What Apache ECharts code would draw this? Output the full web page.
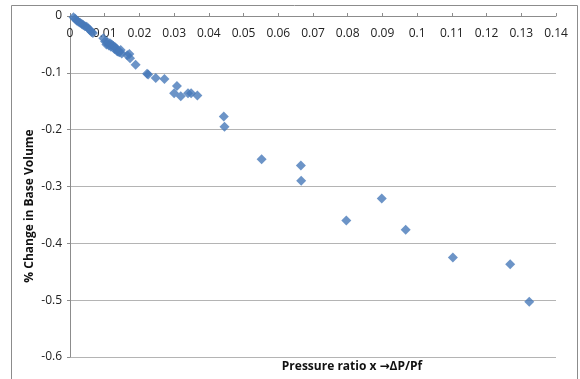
<!DOCTYPE html>
<html>
<head>
<meta charset="utf-8">
<script src="https://cdn.jsdelivr.net/npm/echarts@6/dist/echarts.min.js"></script>
<style>
  html, body { margin: 0; padding: 0; background: #fff; }
  #chart { width: 580px; height: 379px; }
</style>
</head>
<body>
<div id="chart"></div>
<script>
// pressure ratio x (ΔP/Pf) vs % change in base volume
const pressureRatio = [
  0.0010, 0.0015, 0.0019, 0.0024, 0.0029, 0.0034, 0.0038, 0.0043, 0.0048, 0.0053, 0.0058, 0.0062, 0.0066,
  0.0096, 0.0101, 0.0105, 0.0108, 0.0112, 0.0115, 0.0118, 0.0120, 0.0125, 0.0128, 0.0130, 0.0134,
  0.0136, 0.0139, 0.0143, 0.0146, 0.0149,
  0.0165, 0.0171, 0.0173,
  0.0189, 0.0222, 0.0225, 0.0247, 0.0272, 0.0300, 0.0308, 0.0319, 0.0340, 0.0349, 0.0367,
  0.0443, 0.0445, 0.0552, 0.0665, 0.0666, 0.0796, 0.0898, 0.0967, 0.1103, 0.1268, 0.1323
];
const volumeChange = [
  -0.002, -0.005, -0.008, -0.010, -0.012, -0.014, -0.016, -0.018, -0.019, -0.022, -0.025, -0.028, -0.030,
  -0.039, -0.045, -0.050, -0.046, -0.052, -0.048, -0.054, -0.050, -0.053, -0.058, -0.055, -0.057,
  -0.062, -0.063, -0.064, -0.060, -0.066,
  -0.069, -0.067, -0.0745,
  -0.0857, -0.1015, -0.103, -0.109, -0.111, -0.136, -0.123, -0.141, -0.136, -0.136, -0.140,
  -0.177, -0.195, -0.252, -0.263, -0.290, -0.360, -0.321, -0.376, -0.425, -0.437, -0.503
];
const xTicks = { min: 0, max: 0.14, step: 0.01 };
const yTicks = { min: -0.6, max: 0, step: 0.1 };

const points = pressureRatio.map((x, i) => [x, volumeChange[i]]);
const font = "'Open Sans', 'DejaVu Sans', sans-serif";

const myChart = echarts.init(document.getElementById('chart'));
const option = {
  animation: false,
  grid: { left: 70, right: 24, top: 16, bottom: 22 },
  xAxis: {
    type: 'value',
    position: 'top',
    min: xTicks.min, max: xTicks.max, interval: xTicks.step,
    axisLine: { show: true, lineStyle: { color: '#8c8c8c' } },
    axisTick: { show: true, inside: false, length: 3, lineStyle: { color: '#8c8c8c' } },
    axisLabel: {
      inside: true, margin: 12, color: '#222', fontSize: 12, fontFamily: font,
      formatter: v => +v.toFixed(2) + ''
    },
    splitLine: { show: false }
  },
  yAxis: {
    type: 'value',
    min: yTicks.min, max: yTicks.max, interval: yTicks.step,
    axisLine: { show: true, lineStyle: { color: '#8c8c8c' } },
    axisTick: { show: true, length: 3, lineStyle: { color: '#8c8c8c' } },
    axisLabel: {
      margin: 8, color: '#222', fontSize: 12, fontFamily: font,
      formatter: v => +v.toFixed(1) + ''
    },
    splitLine: { show: true, lineStyle: { color: '#b4b4b4' } }
  },
  series: [{
    type: 'scatter',
    data: points,
    symbol: 'diamond',
    symbolSize: 10,
    itemStyle: { color: '#4779b9' }
  }],
  graphic: [
    {
      type: 'rect', silent: true, z: -1,
      shape: { x: 11.5, y: 5.5, width: 566, height: 390 },
      style: { fill: 'none', stroke: '#8c8c8c', lineWidth: 1 }
    },
    {
      type: 'text', x: 352, y: 367,
      style: {
        text: 'Pressure ratio x →ΔP/Pf', fill: '#111',
        font: 'bold 12px ' + font, textAlign: 'center', textVerticalAlign: 'middle'
      }
    },
    {
      type: 'text', x: 30, y: 206, rotation: Math.PI / 2,
      style: {
        text: '% Change in Base Volume', fill: '#111',
        font: 'bold 12px ' + font, textAlign: 'center', textVerticalAlign: 'middle'
      }
    }
  ]
};
option && myChart.setOption(option);
</script>
</body>
</html>
